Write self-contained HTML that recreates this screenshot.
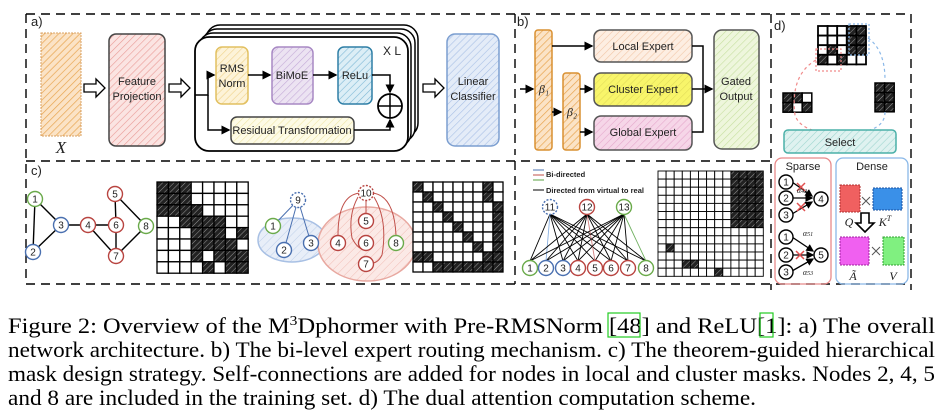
<!DOCTYPE html>
<html><head><meta charset="utf-8"><style>
html,body{margin:0;padding:0;background:#fff;width:941px;height:417px;overflow:hidden}
svg{display:block}
</style></head><body>
<svg id="s" width="941" height="417" viewBox="0 0 941 417" xmlns="http://www.w3.org/2000/svg" font-family="Liberation Sans, sans-serif">
<defs>
<pattern id="hPink" width="5" height="5" patternUnits="userSpaceOnUse" patternTransform="rotate(45)"><rect width="5" height="5" fill="#fbe4e2"/><line x1="0" y1="0" x2="0" y2="5" stroke="#e99a96" stroke-width="1.2"/></pattern>
<pattern id="hOr" width="5" height="5" patternUnits="userSpaceOnUse" patternTransform="rotate(45)"><rect width="5" height="5" fill="#fbe3c6"/><line x1="0" y1="0" x2="0" y2="5" stroke="#e8a550" stroke-width="1.4"/></pattern>
<pattern id="hYel" width="5" height="5" patternUnits="userSpaceOnUse" patternTransform="rotate(45)"><rect width="5" height="5" fill="#fdf3d8"/><line x1="0" y1="0" x2="0" y2="5" stroke="#efd28a" stroke-width="1.2"/></pattern>
<pattern id="hPur" width="5" height="5" patternUnits="userSpaceOnUse" patternTransform="rotate(45)"><rect width="5" height="5" fill="#ece3f2"/><line x1="0" y1="0" x2="0" y2="5" stroke="#c4abd8" stroke-width="1.2"/></pattern>
<pattern id="hTeal" width="5" height="5" patternUnits="userSpaceOnUse" patternTransform="rotate(45)"><rect width="5" height="5" fill="#dceef6"/><line x1="0" y1="0" x2="0" y2="5" stroke="#7fb8d6" stroke-width="1.2"/></pattern>
<pattern id="hBlue" width="5" height="5" patternUnits="userSpaceOnUse" patternTransform="rotate(45)"><rect width="5" height="5" fill="#e4ecf8"/><line x1="0" y1="0" x2="0" y2="5" stroke="#a9c0e6" stroke-width="1.2"/></pattern>
<pattern id="hLY" width="5" height="5" patternUnits="userSpaceOnUse" patternTransform="rotate(45)"><rect width="5" height="5" fill="#fdfbe6"/><line x1="0" y1="0" x2="0" y2="5" stroke="#efe6a8" stroke-width="1.2"/></pattern>
<pattern id="hPeach" width="5" height="5" patternUnits="userSpaceOnUse" patternTransform="rotate(45)"><rect width="5" height="5" fill="#fdeee2"/><line x1="0" y1="0" x2="0" y2="5" stroke="#f2c6a8" stroke-width="1.2"/></pattern>
<pattern id="hCY" width="5" height="5" patternUnits="userSpaceOnUse" patternTransform="rotate(45)"><rect width="5" height="5" fill="#f8f56a"/><line x1="0" y1="0" x2="0" y2="5" stroke="#e2dc5a" stroke-width="1.2"/></pattern>
<pattern id="hGP" width="5" height="5" patternUnits="userSpaceOnUse" patternTransform="rotate(45)"><rect width="5" height="5" fill="#f6d6e8"/><line x1="0" y1="0" x2="0" y2="5" stroke="#e6a8cc" stroke-width="1.2"/></pattern>
<pattern id="hGr" width="5" height="5" patternUnits="userSpaceOnUse" patternTransform="rotate(45)"><rect width="5" height="5" fill="#eef6dc"/><line x1="0" y1="0" x2="0" y2="5" stroke="#c6e0a0" stroke-width="1.2"/></pattern>
<pattern id="hSel" width="5" height="5" patternUnits="userSpaceOnUse" patternTransform="rotate(45)"><rect width="5" height="5" fill="#dff2f0"/><line x1="0" y1="0" x2="0" y2="5" stroke="#9fd6d0" stroke-width="1.2"/></pattern>
<pattern id="hDk" width="4" height="4" patternUnits="userSpaceOnUse" patternTransform="rotate(45)"><rect width="4" height="4" fill="#222"/><line x1="0" y1="0" x2="0" y2="4" stroke="#999" stroke-width="1"/></pattern>
<pattern id="hRedE" width="6" height="6" patternUnits="userSpaceOnUse" patternTransform="rotate(45)"><rect width="6" height="6" fill="#fbe9e6"/><line x1="0" y1="0" x2="0" y2="6" stroke="#f0bcb4" stroke-width="1"/></pattern>
<pattern id="hBlueE" width="6" height="6" patternUnits="userSpaceOnUse" patternTransform="rotate(45)"><rect width="6" height="6" fill="#e8eef8"/><line x1="0" y1="0" x2="0" y2="6" stroke="#bfd0ea" stroke-width="1"/></pattern>
<marker id="ar" markerWidth="6" markerHeight="6" refX="5" refY="3" orient="auto"><path d="M0,0 L6,3 L0,6z" fill="#000"/></marker>
</defs>
<g id="g" fill="none" stroke="#000" stroke-width="1.5">
<g stroke-dasharray="9,6" stroke-width="1.4">
<line x1="26" y1="14" x2="911" y2="14"/>
<line x1="26" y1="161" x2="770" y2="161"/>
<line x1="26" y1="284" x2="911" y2="284"/>
<line x1="26" y1="14" x2="26" y2="284"/>
<line x1="515" y1="14" x2="515" y2="155"/>
<line x1="771" y1="14" x2="771" y2="290"/>
<line x1="911" y1="14" x2="911" y2="290"/>
<line x1="515" y1="161" x2="515" y2="284"/>
</g>
<rect x="41" y="33" width="40" height="103" fill="url(#hOr)" stroke="#d9a060" stroke-dasharray="2,1" stroke-width="1"/>
<path d="M84,84 h12 v-5 l9,9 -9,9 v-5 h-12z" stroke-width="1.3"/>
<rect x="109" y="34" width="56" height="112" rx="7" fill="url(#hPink)" stroke="#444"/>
<path d="M169,84 h12 v-5 l9,9 -9,9 v-5 h-12z" stroke-width="1.3"/>
<rect x="206" y="25" width="212" height="112" rx="14" fill="#fff"/>
<rect x="203" y="29" width="212" height="113" rx="14" fill="#fff"/>
<rect x="199" y="33" width="212" height="114" rx="14" fill="#fff"/>
<rect x="195" y="37" width="213" height="114" rx="14" fill="#fff" stroke-width="1.8"/>
<rect x="216" y="47" width="32" height="57" rx="6" fill="url(#hYel)" stroke="#e2c060"/>
<rect x="272" y="47" width="41" height="57" rx="6" fill="url(#hPur)" stroke="#a889c4"/>
<rect x="338" y="47" width="34" height="57" rx="6" fill="url(#hTeal)" stroke="#2f7fa6"/>
<rect x="231" y="117" width="123" height="27" rx="6" fill="url(#hLY)" stroke="#444"/>
<path d="M195,95 H208 V75 H214" marker-end="url(#ar)"/>
<path d="M208,95 V130 H229" marker-end="url(#ar)"/>
<path d="M248,75 H270" marker-end="url(#ar)"/>
<path d="M313,75 H336" marker-end="url(#ar)"/>
<path d="M372,75 H390 V92" marker-end="url(#ar)"/>
<path d="M354,130 H390 V120" marker-end="url(#ar)"/>
<circle cx="390" cy="106" r="12" stroke-width="1.8"/>
<line x1="378" y1="106" x2="402" y2="106"/><line x1="390" y1="94" x2="390" y2="118"/>
<path d="M423,84 h12 v-5 l9,9 -9,9 v-5 h-12z" stroke-width="1.3"/>
<rect x="447" y="34" width="52" height="112" rx="8" fill="url(#hBlue)" stroke="#7b9ed0"/>
<rect x="535" y="30" width="17" height="120" rx="3" fill="url(#hOr)" stroke="#d99030"/>
<rect x="563" y="73" width="17" height="77" rx="3" fill="url(#hOr)" stroke="#d99030"/>
<rect x="594" y="30" width="98" height="32" rx="7" fill="url(#hPeach)" stroke="#555"/>
<rect x="594" y="73" width="98" height="33" rx="7" fill="url(#hCY)" stroke="#555"/>
<rect x="594" y="116" width="98" height="34" rx="7" fill="url(#hGP)" stroke="#555"/>
<rect x="714" y="30" width="45" height="119" rx="8" fill="url(#hGr)" stroke="#555"/>
<path d="M520,89 H533" marker-end="url(#ar)"/>
<path d="M552,46 H592" marker-end="url(#ar)"/>
<path d="M552,112 H561" marker-end="url(#ar)"/>
<path d="M580,89 H592" marker-end="url(#ar)"/>
<path d="M580,132 H592" marker-end="url(#ar)"/>
<path d="M692,46 H703 V132 H692"/>
<path d="M692,89 H712" marker-end="url(#ar)"/>
<g id="dtop"></g>
<rect x="816" y="49" width="25" height="22" stroke="#f08a8a" stroke-dasharray="2,2" stroke-width="1.2"/>
<rect x="849" y="24" width="20" height="31" stroke="#8ab8e8" stroke-dasharray="2,2" stroke-width="1.2"/>
<path d="M816,60 Q790,75 795,115 Q798,125 812,130" stroke="#f08a8a" stroke-dasharray="3,3" stroke-width="1.2"/>
<path d="M868,38 Q885,50 885,80" stroke="#8ab8e8" stroke-dasharray="3,3" stroke-width="1.2"/>
<path d="M885,112 Q885,125 870,130" stroke="#8ab8e8" stroke-dasharray="3,3" stroke-width="1.2"/>
<rect x="784" y="130" width="112" height="23" rx="4" fill="url(#hSel)" stroke="#4ab0a8"/>
<g id="graph1" stroke-width="1.4">
<line x1="35" y1="199" x2="33" y2="252"/><line x1="35" y1="199" x2="61" y2="225"/><line x1="33" y1="252" x2="61" y2="225"/>
<line x1="61" y1="225" x2="88" y2="225"/><line x1="88" y1="225" x2="116" y2="225"/><line x1="88" y1="225" x2="116" y2="256"/>
<line x1="115" y1="194" x2="116" y2="225"/><line x1="116" y1="225" x2="116" y2="256"/><line x1="115" y1="194" x2="146" y2="226"/><line x1="116" y1="256" x2="146" y2="226"/>
</g>
<ellipse cx="292" cy="240" rx="34" ry="22" fill="url(#hBlueE)" stroke="#a8c0e4"/>
<ellipse cx="367" cy="244" rx="49" ry="37" fill="url(#hRedE)" stroke="#e8a8a0"/>
<g stroke="#4a70b0" stroke-width="1"><line x1="298" y1="200" x2="273" y2="226"/><line x1="298" y1="200" x2="284" y2="250"/><line x1="298" y1="200" x2="311" y2="243"/></g>
<g stroke="#c0504a" stroke-width="1">
<path d="M360,193 Q338,195 338,235"/><path d="M366,201 V214"/><path d="M372,193 Q394,195 396,235"/>
<path d="M358,197 Q348,215 352,238 Q358,250 366,250"/><path d="M374,197 Q388,220 382,255 Q378,263 372,263"/>
</g>
<g id="nodes"></g>
<g id="grids"></g>
<line x1="533" y1="170" x2="544" y2="170" stroke="#4a70b0" stroke-width="1"/>
<line x1="533" y1="175" x2="544" y2="175" stroke="#c0504a" stroke-width="1"/>
<line x1="533" y1="180" x2="544" y2="180" stroke="#5aa040" stroke-width="1"/>
<line x1="533" y1="190" x2="544" y2="190" stroke-width="1"/>
<g id="bip" stroke-width="0.9"></g>
<rect x="775" y="158" width="56" height="126" rx="7" stroke="#e88a8a" stroke-width="1.3"/>
<rect x="836" y="158" width="72" height="126" rx="7" stroke="#8ab8e8" stroke-width="1.3"/>
<g stroke-width="1.3">
<path d="M792,182 L812,196" marker-end="url(#ar)"/><path d="M792,198 H812" marker-end="url(#ar)"/><path d="M792,214 L812,202" marker-end="url(#ar)"/>
<path d="M792,237 L813,251" marker-end="url(#ar)"/><path d="M792,255 H813" marker-end="url(#ar)"/><path d="M792,271 L813,259" marker-end="url(#ar)"/>
</g>
<g stroke="#e05050" stroke-width="1.5"><path d="M797,183 l8,8 M805,183 l-8,8"/><path d="M797,203 l8,8 M805,203 l-8,8"/><path d="M796,251 l8,8 M804,251 l-8,8"/></g>
<rect x="840" y="185" width="20" height="27" fill="#f06060" stroke="#b03030" stroke-dasharray="2,1" stroke-width="1"/>
<rect x="873" y="188" width="29" height="22" fill="#3a90e8" stroke="#1a50a0" stroke-dasharray="2,1" stroke-width="1"/>
<rect x="840" y="237" width="29" height="28" fill="#f060f0" stroke="#a020a0" stroke-dasharray="2,1" stroke-width="1"/>
<rect x="883" y="237" width="21" height="28" fill="#80f080" stroke="#30a030" stroke-dasharray="2,1" stroke-width="1"/>
<path d="M862,197 l8,8 M870,197 l-8,8 M872,247 l8,8 M880,247 l-8,8" stroke="#555" stroke-width="1"/>
<path d="M861,213 h8 v10 h5 l-9,9 -9,-9 h5z" stroke-width="1.6" fill="#fff"/>
</g>
<g id="txt" font-size="11" fill="#222" text-anchor="middle">
<text x="31" y="26" text-anchor="start" font-size="13">a)</text>
<text x="517" y="26" text-anchor="start" font-size="13">b)</text>
<text x="774" y="30" text-anchor="start" font-size="13">d)</text>
<text x="31" y="175" text-anchor="start" font-size="13">c)</text>
<text x="61" y="153" font-size="17" font-style="italic" font-family="Liberation Serif, serif">X</text>
<text x="137" y="85">Feature</text><text x="137" y="100">Projection</text>
<text x="232" y="72">RMS</text><text x="232" y="87">Norm</text>
<text x="292" y="79">BiMoE</text>
<text x="355" y="79">ReLu</text>
<text x="392" y="55" font-size="12">X L</text>
<text x="292" y="134">Residual Transformation</text>
<text x="473" y="85">Linear</text><text x="473" y="100">Classifier</text>
<text x="643" y="50">Local Expert</text>
<text x="643" y="93">Cluster Expert</text>
<text x="643" y="136">Global Expert</text>
<text x="736" y="85">Gated</text><text x="736" y="100">Output</text>
<text x="544" y="93" font-family="Liberation Serif, serif" font-style="italic" font-size="12">β₁</text>
<text x="572" y="116" font-family="Liberation Serif, serif" font-style="italic" font-size="12">β₂</text>
<text x="840" y="146">Select</text>
<text x="546" y="177" text-anchor="start" font-size="7.5" font-weight="bold">Bi-directed</text>
<text x="546" y="193" text-anchor="start" font-size="7.5" font-weight="bold">Directed from virtual to real</text>
<text x="803" y="170" font-size="11">Sparse</text>
<text x="872" y="170" font-size="11">Dense</text>
<text x="849" y="226" font-family="Liberation Serif, serif" font-style="italic" font-size="12">Q</text>
<text x="885" y="226" font-family="Liberation Serif, serif" font-style="italic" font-size="12">K<tspan font-size="8" dy="-5">T</tspan></text>
<text x="853" y="280" font-family="Liberation Serif, serif" font-style="italic" font-size="12">Ã</text>
<text x="893" y="280" font-family="Liberation Serif, serif" font-style="italic" font-size="12">V</text>
<text x="802" y="193" font-family="Liberation Serif, serif" font-style="italic" font-size="8">α<tspan font-size="6">42</tspan></text>
<text x="808" y="236" font-family="Liberation Serif, serif" font-style="italic" font-size="8">α<tspan font-size="6">51</tspan></text>
<text x="808" y="275" font-family="Liberation Serif, serif" font-style="italic" font-size="8">α<tspan font-size="6">53</tspan></text>
</g>
<g font-family="Liberation Serif, serif" font-size="22" fill="#000">
<text x="8" y="333">Figure 2: Overview of the M<tspan font-size="14" dy="-8">3</tspan><tspan dy="8">Dphormer with Pre-RMSNorm [48] and ReLU[1]: a) The overall</tspan></text>
<text x="8" y="357" textLength="927" lengthAdjust="spacingAndGlyphs">network architecture. b) The bi-level expert routing mechanism. c) The theorem-guided hierarchical</text>
<text x="8" y="381" textLength="927" lengthAdjust="spacingAndGlyphs">mask design strategy. Self-connections are added for nodes in local and cluster masks. Nodes 2, 4, 5</text>
<text x="8" y="405" textLength="748" lengthAdjust="spacingAndGlyphs">and 8 are included in the training set. d) The dual attention computation scheme.</text>
</g>
<rect id="b48" x="608" y="313" width="32" height="24" fill="none" stroke="#2c2" stroke-width="1.2"/>
<rect id="b1" x="760" y="313" width="13" height="24" fill="none" stroke="#2c2" stroke-width="1.2"/>
</svg>
<script>
const NS="http://www.w3.org/2000/svg";
function el(p,t,a,txt){const e=document.createElementNS(NS,t);for(const k in a)e.setAttribute(k,a[k]);if(txt!==undefined)e.textContent=txt;document.getElementById(p).appendChild(e);return e;}
function grid(p,x,y,n,m,cs,dark,sw){for(let r=0;r<m;r++)for(let c=0;c<n;c++){el(p,'rect',{x:x+c*cs,y:y+r*cs,width:cs,height:cs,fill:dark(r,c)?'url(#hDk)':'#fff',stroke:'#000','stroke-width':sw});}}
grid('dtop',818,26,5,4,9.6,(r,c)=>(c>=3&&r<3)||(r==2&&c==1)||(r==3&&(c==0||c==2)),1.8);
grid('dtop',783,93,3,2,9.6,(r,c)=>(r==0&&c!=2)||(r==1&&c!=1),1.5);
grid('dtop',875,83,2,3,9.6,()=>true,1.5);
const m1=[[1,1,1,0,0,0,0,0],[1,1,1,0,0,0,0,0],[1,1,1,1,0,0,0,0],[0,0,1,1,1,1,0,0],[0,0,0,1,1,1,0,1],[0,0,0,1,1,1,1,0],[0,0,0,1,0,1,1,1],[0,0,0,0,1,0,1,1]];
grid('grids',157,182,8,8,11.4,(r,c)=>m1[r][c],1.3);
grid('grids',413,182,9,9,10,(r,c)=>r==c||(c==7&&r<=1)||(c==8&&r>=2)||(r==7&&c<=1)||(r==8&&c>=2),1.3);
grid('bip',658,171,13,13,8.1,(r,c)=>(c>=9&&r<7)||(r==9&&c==1)||(r==11&&(c==3||c==4))||(r==12&&c==7),0.9);
const vx=[550,587,624],rx=[530,546,563,578,595,611,628,646];
vx.forEach((v,i)=>rx.forEach((x,j)=>{let col='#000';if(i==0&&j==1)col='#8ab0e0';if(i==1&&j==4)col='#d08080';if(i==2&&j==7)col='#70b060';el('bip','line',{x1:v,y1:214,x2:x,y2:261,stroke:col});}));
function node(p,x,y,lab,col,dash,r){r=r||7.5;const c=el(p,'circle',{cx:x,cy:y,r:r,fill:'#fff',stroke:col,'stroke-width':1.4});if(dash)c.setAttribute('stroke-dasharray','2,1.5');el(p,'text',{x:x,y:y+3.5,'text-anchor':'middle','font-size':10,fill:'#222',stroke:'none'},lab);}
const G='#6aaa4a',B='#4a70b0',R='#b84440',K='#000';
node('nodes',35,199,'1',G);node('nodes',33,252,'2',B);node('nodes',61,225,'3',B);node('nodes',88,225,'4',R);node('nodes',115,194,'5',R);node('nodes',116,225,'6',R);node('nodes',116,256,'7',R);node('nodes',146,226,'8',G);
node('nodes',298,200,'9',B,1);node('nodes',273,226,'1',G);node('nodes',284,250,'2',B);node('nodes',311,243,'3',B);
node('nodes',366,193,'10',R,1);node('nodes',366,221,'5',R);node('nodes',338,243,'4',R);node('nodes',366,243,'6',R);node('nodes',366,264,'7',R);node('nodes',396,243,'8',G);
node('bip',550,207,'11',B,1);node('bip',587,207,'12',R);node('bip',624,207,'13',G);
const rc=[G,B,B,R,R,R,R,G];rx.forEach((x,j)=>node('bip',x,268,String(j+1),rc[j]));
[[786,182,'1'],[786,198,'2'],[786,215,'3'],[821,199,'4'],[786,237,'1'],[786,255,'2'],[786,272,'3'],[821,255,'5']].forEach(a=>node('g',a[0],a[1],a[2],K,0,7));
// fit caption line 1 and place green boxes precisely
try{const t=document.querySelector('g[font-size="22"] text');const w=t.getComputedTextLength();if(w>0){t.setAttribute('textLength',927);t.setAttribute('lengthAdjust','spacingAndGlyphs');}}catch(e){}
</script>
</body></html>
